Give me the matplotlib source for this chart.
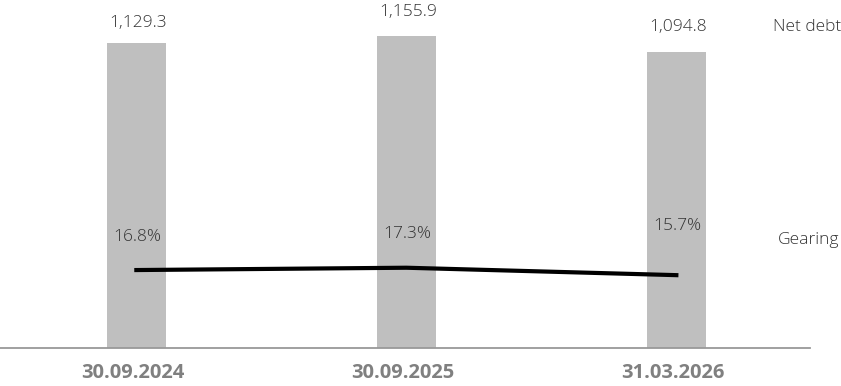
import matplotlib.pyplot as plt
import matplotlib.transforms as mtransforms

plt.rcParams["font.family"] = ["Open Sans", "DejaVu Sans"]

# data
dates = ["30.09.2024", "30.09.2025", "31.03.2026"]
net_debt = [1129.3, 1155.9, 1094.8]
gearing = [16.8, 17.3, 15.7]
net_debt_labels = ["1,129.3", "1,155.9", "1,094.8"]
gearing_labels = ["16.8%", "17.3%", "15.7%"]

fig = plt.figure(figsize=(8.41, 3.86), dpi=100)
ax = fig.add_axes([0, 38 / 386, 810 / 841, 348 / 386])
x = range(len(dates))

txt = dict(fontsize=12.5, color="#333333", fontweight="light")

# bars for net debt
ax.bar(x, net_debt, width=0.22, color="#bfbfbf", zorder=1)
ax.set_xlim(-0.505, 2.495)
ax.set_ylim(0, 1289)
bar_label_offsets = [14.4, 17.5, 18.4]
for i, lbl in enumerate(net_debt_labels):
    ax.annotate(lbl, (i, net_debt[i]), xytext=(1, bar_label_offsets[i]),
                textcoords="offset points", ha="center", va="center", **txt)

# line for gearing on second axis
ax2 = ax.twinx()
ax2.plot(x, gearing, color="black", lw=3, zorder=3)
ax2.set_ylim(0, 75)
label_offsets = [23.8, 24.5, 35.6]
for i, lbl in enumerate(gearing_labels):
    ax2.annotate(lbl, (i, gearing[i]), xytext=(1, label_offsets[i]),
                 textcoords="offset points", ha="center", va="center", **txt)

for a in (ax, ax2):
    for s in ("top", "right", "left"):
        a.spines[s].set_visible(False)
    a.set_yticks([])
ax.spines["bottom"].set_color("#999999")
ax.spines["bottom"].set_linewidth(1.3)
ax2.spines["bottom"].set_visible(False)

ax.set_xticks(list(x))
ax.set_xticklabels(dates, fontsize=14.5, fontweight="bold", color="#808080")
ax.tick_params(axis="x", length=0, pad=11)
shift = mtransforms.ScaledTranslation(-3.5 / 100, 0, fig.dpi_scale_trans)
for t in ax.get_xticklabels():
    t.set_transform(t.get_transform() + shift)

# series names on the right
fig.text(773 / 841, 1 - 27 / 386, "Net debt", ha="left", va="center", **txt)
fig.text(778 / 841, 1 - 240 / 386, "Gearing", ha="left", va="center", **txt)

plt.savefig("out.png", dpi=100)
